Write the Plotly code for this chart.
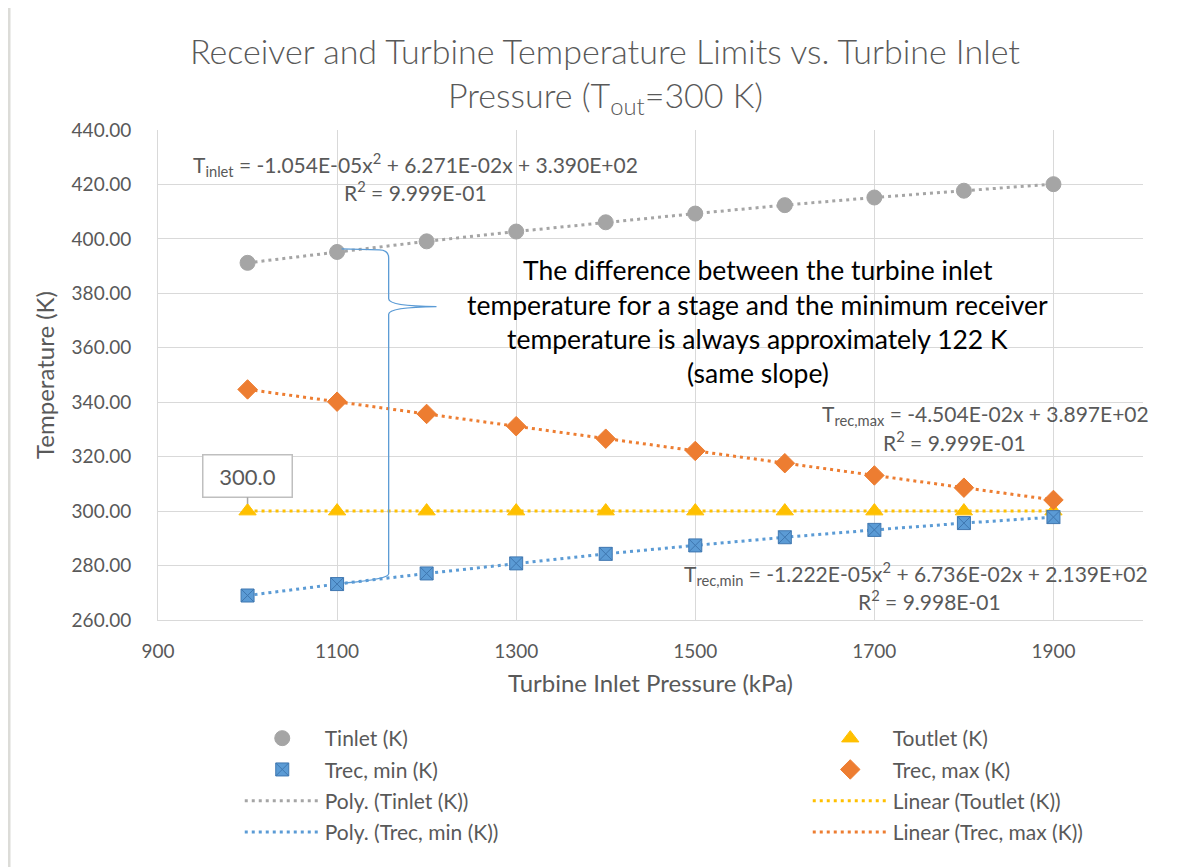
import plotly.graph_objects as go

# values
pressure = [1000, 1100, 1200, 1300, 1400, 1500, 1600, 1700, 1800, 1900]
t_inlet = [391.2, 395.2, 399.1, 402.7, 406.1, 409.3, 412.4, 415.2, 417.7, 420.1]
t_outlet = [300, 300, 300, 300, 300, 300, 300, 300, 300, 300]
t_rec_min = [269.0, 273.2, 277.1, 280.8, 284.3, 287.4, 290.4, 293.1, 295.6, 297.8]
t_rec_max = [344.7, 340.2, 335.7, 331.2, 326.6, 322.1, 317.6, 313.1, 308.6, 304.1]

gray = "#A5A5A5"
yellow = "#FFC000"
blue = "#5B9BD5"
orange = "#ED7D31"
txt = "#595959"
font = "Lato"

fig = go.Figure()

# trendlines first so the markers sit on top
trend = [
    ("Poly. (Tinlet (K))", t_inlet, gray, "legend", 5),
    ("Linear (Toutlet (K))", t_outlet, yellow, "legend2", 7),
    ("Poly. (Trec, min (K))", t_rec_min, blue, "legend", 6),
    ("Linear (Trec, max (K))", t_rec_max, orange, "legend2", 8),
]
for name, vals, col, leg, rank in trend:
    fig.add_trace(go.Scatter(
        x=pressure, y=vals, mode="lines", name=name,
        line=dict(color=col, width=3, dash="3px,4px"),
        legend=leg, legendrank=rank, legendgroup=name, hoverinfo="skip"))

markers = [
    ("Tinlet (K)", t_inlet, gray, "circle", 15, gray, "legend", 1),
    ("Toutlet (K)", t_outlet, yellow, "triangle-up", 15, yellow, "legend2", 3),
    ("Trec, min (K)", t_rec_min, blue, "square-x", 13, "#3F77B0", "legend", 2),
    ("Trec, max (K)", t_rec_max, orange, "diamond", 15, orange, "legend2", 4),
]
for name, vals, col, sym, size, lc, leg, rank in markers:
    fig.add_trace(go.Scatter(
        x=pressure, y=vals, mode="markers", name=name,
        marker=dict(color=col, symbol=sym, size=size, line=dict(color=lc, width=1)),
        legend=leg, legendrank=rank, legendgroup=name))

eq_font = dict(family=font, size=21, color=txt)
notes = [
    (1187, 427.2, "T<sub>inlet</sub> = -1.054E-05x<sup>2</sup> + 6.271E-02x + 3.390E+02"),
    (1187, 417.6, "R<sup>2</sup> = 9.999E-01"),
    (1824, 335.3, "T<sub>rec,max</sub> = -4.504E-02x + 3.897E+02"),
    (1790, 325.8, "R<sup>2</sup> = 9.999E-01"),
    (1746, 276.9, "T<sub>rec,min</sub> = -1.222E-05x<sup>2</sup> + 6.736E-02x + 2.139E+02"),
    (1762, 267.3, "R<sup>2</sup> = 9.998E-01"),
]
for x, y, t in notes:
    fig.add_annotation(x=x, y=y, text=t, showarrow=False, font=eq_font)

big_lines = [
    (388.6, "The difference between the turbine inlet"),
    (375.7, "temperature for a stage and the minimum receiver"),
    (363.2, "temperature is always approximately 122 K"),
    (350.7, "(same slope)"),
]
for y, t in big_lines:
    fig.add_annotation(x=1570, y=y, text=t, showarrow=False,
                       font=dict(family=font, size=26.5, color="black"))

# data label on the first Toutlet point
fig.add_annotation(x=pressure[0], y=t_outlet[0], text="300.0", showarrow=True,
                   arrowhead=0, arrowwidth=1.5, arrowcolor="#A6A6A6", ax=0, ay=-35,
                   standoff=7, bgcolor="white", bordercolor="#BFBFBF", borderwidth=1.5,
                   borderpad=7, width=74, font=dict(family=font, size=22, color=txt))

# curly brace between Tinlet and Trec,min at 1100 kPa
fig.add_shape(type="path", xref="x", yref="y",
              path=("M1105,396.3 L1147,396.0 Q1157.6,396.0 1157.6,393 L1157.6,378 "
                    "Q1157.6,375.3 1211,375.1 Q1157.6,374.9 1157.6,372.3 L1157.6,277 "
                    "Q1157.6,275 1108,273.6"),
              line=dict(color=blue, width=1.3))

# title as two lines
title_font = dict(family=font, size=34, color=txt, weight=300)
fig.add_annotation(xref="paper", yref="paper", x=0.454, y=1.163, yanchor="middle",
                   text="Receiver and Turbine Temperature Limits vs. Turbine Inlet",
                   showarrow=False, font=title_font)
fig.add_annotation(xref="paper", yref="paper", x=0.454, y=1.067, yanchor="middle",
                   text="Pressure (T<sub>out</sub>=300 K)",
                   showarrow=False, font=title_font)

# left frame edge of the screenshot
fig.add_shape(type="line", xref="paper", yref="paper", x0=(1 - 150) / 985, x1=(1 - 150) / 985,
              y0=-0.6, y1=1.3, line=dict(color="#DCDCD8", width=3))

leg_style = dict(orientation="v", font=dict(family=font, size=21, color=txt),
                 itemwidth=75, tracegroupgap=1, bgcolor="rgba(0,0,0,0)",
                 xanchor="left", yanchor="top", itemclick=False)

fig.update_layout(
    width=1193, height=867,
    margin=dict(l=150, r=58, t=122, b=255),
    plot_bgcolor="white", paper_bgcolor="white",
    font=dict(family=font, color=txt),
    showlegend=True,
    legend=dict(x=0.083, y=-0.2, **leg_style),
    legend2=dict(x=0.083 + 568 / 985, y=-0.2, **leg_style),
    xaxis=dict(range=[900, 2000], tick0=900, dtick=200, showgrid=True,
               gridcolor="#D9D9D9", gridwidth=1, zeroline=False,
               showline=True, linecolor="#D9D9D9",
               tickfont=dict(family=font, size=19, color=txt),
               ticklabelstandoff=14,
               title=dict(text="Turbine Inlet Pressure (kPa)", standoff=14,
                          font=dict(family=font, size=24, color=txt))),
    yaxis=dict(range=[260, 440], dtick=20, tickformat=".2f", showgrid=True,
               gridcolor="#D9D9D9", gridwidth=1, zeroline=False,
               showline=True, linecolor="#D9D9D9",
               tickfont=dict(family=font, size=19, color=txt),
               ticklabelstandoff=22,
               title=dict(text="Temperature (K)", standoff=10,
                          font=dict(family=font, size=24, color=txt))),
)

fig.write_html("out.html")
